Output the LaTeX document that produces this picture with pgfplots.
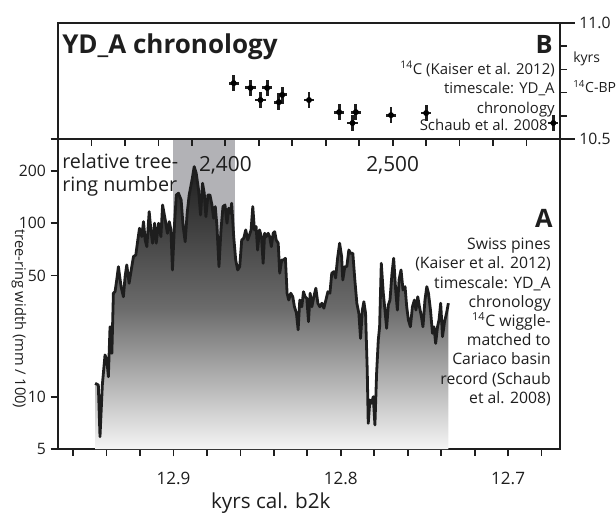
\documentclass[border=0pt]{standalone}
\usepackage{fontspec}
\setmainfont{Open Sans}
\usepackage{pgfplots}
\usepackage{pgfplotstable}
\pgfplotsset{compat=1.18}
\definecolor{bandgray}{RGB}{178,178,182}
\definecolor{ink}{RGB}{30,30,30}

\pgfplotstableread{
age width
12.9468 11.96
12.9449 11.69
12.9439 5.89
12.9425 11.69
12.9409 17.41
12.9398 16.29
12.9389 13.05
12.9379 25.34
12.9368 17.81
12.9359 39.48
12.9349 40.33
12.9339 47.12
12.9329 56.2
12.9313 43.1
12.9299 37.7
12.9289 49.2
12.9279 57.5
12.9265 45.1
12.9249 56.2
12.9239 64.2
12.9225 65.6
12.9213 80.1
12.9203 93.5
12.9189 83.7
12.9179 102.1
12.9169 80.1
12.9159 73.3
12.9145 116.6
12.9135 91.5
12.9125 76.7
12.9113 100
12.9103 76.7
12.9089 100
12.9075 83.7
12.9065 127.4
12.9049 104.4
12.9036 87.5
12.9025 102.1
12.9015 91.5
12.9006 53.8
12.8994 97.7
12.8983 145.5
12.8970 148.9
12.8954 136.2
12.8943 97.7
12.8930 78.3
12.8918 114.2
12.8906 145.5
12.8889 177.6
12.8876 211.9
12.8864 194.1
12.8850 155.5
12.8838 111.6
12.8826 169.9
12.8816 148.9
12.8806 109.1
12.8794 145.5
12.8782 145.5
12.8770 127.4
12.8760 106.8
12.8750 124.6
12.8740 95.6
12.8728 56.2
12.8716 91.5
12.8704 124.6
12.8692 127.4
12.8680 100
12.8670 122
12.8660 114.2
12.8652 130.3
12.8640 83.7
12.8628 61.4
12.8616 53.8
12.8604 56.2
12.8592 80.1
12.8580 81.9
12.8568 91.5
12.8556 80.1
12.8546 85.6
12.8536 91.5
12.8526 124.6
12.8516 91.5
12.8506 95.6
12.8497 70.1
12.8486 91.5
12.8474 83.7
12.8464 58.8
12.8455 87.5
12.8445 83.7
12.8434 87.5
12.8425 83.7
12.8415 73.3
12.8404 87.5
12.8395 89.4
12.8386 80.1
12.8374 76.7
12.8365 51.5
12.8353 61.4
12.8341 61.4
12.8331 62.8
12.8321 39.5
12.8311 36.1
12.8299 39.5
12.8287 37.7
12.8277 33.0
12.8265 30.3
12.8255 24.3
12.8245 36.1
12.8233 33.0
12.8223 40.3
12.8213 37.7
12.8203 36.9
12.8193 27.1
12.8183 39.5
12.8173 33.0
12.8161 37.7
12.8149 42.2
12.8137 34.6
12.8125 33.0
12.8113 34.6
12.8101 32.4
12.8089 36.1
12.8077 40.3
12.8065 39.5
12.8054 51.5
12.8042 52.6
12.8031 48.4
12.8019 63.1
12.8007 76.7
12.7995 64.2
12.7988 47.1
12.7976 56.2
12.7964 56.2
12.7952 70.1
12.7942 67.1
12.7928 67.1
12.7916 47.1
12.7904 34.6
12.7892 30.3
12.7882 21.7
12.7871 31.6
12.7862 35.3
12.7852 30.3
12.7842 14.3
12.7836 7.03
12.7826 9.58
12.7816 9.17
12.7806 10.0
12.7796 6.88
12.7786 13.65
12.7776 21.2
12.7768 25.3
12.7758 58.8
12.7746 39.5
12.7736 31.6
12.7726 24.8
12.7716 33.8
12.7706 36.1
12.7694 51.5
12.7684 62.8
12.7672 41.2
12.7662 31.6
12.7652 47.1
12.7640 53.8
12.7628 41.2
12.7616 43.1
12.7606 33.0
12.7596 27.7
12.7584 25.3
12.7572 33.0
12.7560 36.1
12.7551 31.6
12.7540 37.7
12.7530 33.0
12.7518 28.9
12.7509 25.3
12.7497 36.1
12.7486 43.1
12.7476 39.5
12.7464 31.6
12.7452 23.2
12.7443 25.3
12.7433 20.3
12.7422 25.3
12.7413 27.7
12.7403 34.6
12.7392 22.2
12.7380 27.1
12.7368 30.3
12.7357 34.6
}\ringwidth

\pgfplotstableread{
age c14 ex ey
12.864 10.741 0.0031 0.034
12.854 10.720 0.0031 0.034
12.848 10.668 0.0031 0.034
12.844 10.720 0.0031 0.034
12.837 10.659 0.0031 0.034
12.835 10.690 0.0031 0.034
12.819 10.668 0.0031 0.034
12.801 10.616 0.0031 0.034
12.793 10.569 0.0031 0.034
12.791 10.616 0.0031 0.034
12.770 10.603 0.0031 0.034
12.749 10.612 0.0031 0.034
12.673 10.569 0.0031 0.034
}\cfourteen

\begin{document}
\begin{tikzpicture}
\useasboundingbox (0,0) rectangle (462pt,384pt);
% ---------------- Panel A ----------------
\begin{axis}[
  at={(43.5pt,47.25pt)}, anchor=south west,
  width=376.5pt, height=232.5pt, scale only axis,
  xmin=12.669, xmax=12.969, x dir=reverse,
  ymode=log, ymin=5, ymax=305.7, log origin y=infty,
  axis line style={line width=1.5pt, ink},
  tick style={line width=1.3pt, ink},
  xtick={12.7,12.8,12.9}, xticklabels={12.7,12.8,12.9},
  minor xtick={12.68,12.72,12.74,12.76,12.78,12.82,12.84,12.86,12.88,12.92,12.94,12.96},
  ytick={5,10,50,100,200}, yticklabels={5,10,50,100,200},
  extra y ticks={305.7}, extra y tick labels={},
  yminorticks=false,
  xtick pos=bottom, ytick pos=left,
  tick align=outside,
  major tick length=5.5pt, minor tick length=5pt,
  ticklabel style={font=\fontsize{11.8pt}{13pt}\selectfont, text=ink},
  xticklabel style={yshift=-8pt, font=\fontsize{12.8pt}{14pt}\selectfont},
  clip mode=individual,
]
\addplot[fill=bandgray, draw=none] coordinates {(12.900,5) (12.900,305.7) (12.8635,305.7) (12.8635,5)} -- cycle;
\addplot[draw=none, top color=black!88, bottom color=black!4, middle color=black!58] table[x=age,y=width] {\ringwidth} \closedcycle;
\addplot[line width=2.1pt, color=ink, line join=round] table[x=age,y=width] {\ringwidth};

\node[anchor=base east, font=\fontsize{19pt}{19pt}\selectfont\bfseries, text=ink, inner sep=0pt] at (rel axis cs:0.986,0.716) {A};
\node[anchor=north east, align=right, font=\fontsize{11.8pt}{14.4pt}\selectfont, text=ink, inner sep=0pt] at (rel axis cs:0.982,0.681)
 {Swiss pines\\(Kaiser et al. 2012)\\timescale: YD\_A\\chronology\\\textsuperscript{14}C wiggle-\\matched to\\Cariaco basin\\record (Schaub\\et al. 2008)};
\node[anchor=north west, align=left, font=\fontsize{14.8pt}{17.3pt}\selectfont, text=ink, inner sep=0pt] at (rel axis cs:0.008,0.955)
 {relative tree-\\ring number};
\node[rotate=-90, font=\fontsize{11pt}{13pt}\selectfont, text=ink] at (rel axis cs:-0.0777,0.42) {tree-ring width (mm / 100)};
\node[font=\fontsize{15.5pt}{17pt}\selectfont, text=ink] at (rel axis cs:0.424,-0.174) {kyrs cal. b2k};
\end{axis}
% ---------------- ring-number axis (top of panel A) ----------------
\begin{axis}[
  at={(43.5pt,47.25pt)}, anchor=south west,
  width=376.5pt, height=232.5pt, scale only axis,
  xmin=2300, xmax=2600, ymin=0, ymax=1,
  axis x line*=top, axis y line=none,
  axis line style={draw=none},
  xtick={2320,2340,2360,2380,2400,2420,2440,2460,2480,2500,2520,2540,2560,2580},
  xticklabels={},
  tick align=inside, major tick length=5.5pt,
  tick style={line width=1.3pt, ink},
  clip=false,
]
\node[font=\fontsize{15.6pt}{17pt}\selectfont, text=ink] at (axis cs:2400,0.916) {2,400};
\node[font=\fontsize{15.6pt}{17pt}\selectfont, text=ink] at (axis cs:2500,0.916) {2,500};
\end{axis}
% ---------------- Panel B ----------------
\begin{axis}[
  at={(43.5pt,279.75pt)}, anchor=south west,
  width=376.5pt, height=87pt, scale only axis,
  xmin=12.669, xmax=12.969, x dir=reverse,
  ymin=10.5, ymax=11.0,
  xtick=\empty,
  ytick={10.5,11.0}, yticklabels={10.5,11.0},
  minor ytick={10.6,10.7,10.8,10.9},
  ytick pos=right, tick align=outside,
  major tick length=11pt, minor tick length=5pt,
  axis line style={line width=1.5pt, ink},
  tick style={line width=1.3pt, ink},
  ticklabel style={font=\fontsize{11.8pt}{13pt}\selectfont, text=ink},
  clip=false,
]
\addplot[only marks, mark=none,
  error bars/.cd, x dir=both, x explicit, y dir=both, y explicit,
  error mark=none, error bar style={draw=ink, line width=2.2pt}]
  table[x=age, y=c14, x error=ex, y error=ey] {\cfourteen};
\node[anchor=base west, font=\fontsize{19.5pt}{20pt}\selectfont\bfseries, text=ink, inner sep=0pt] at (rel axis cs:0.008,0.741) {YD\_A chronology};
\node[anchor=base east, font=\fontsize{19pt}{20pt}\selectfont\bfseries, text=ink, inner sep=0pt] at (rel axis cs:0.986,0.741) {B};
\node[anchor=north east, align=right, font=\fontsize{11.2pt}{14.6pt}\selectfont, text=ink, inner sep=0pt] at (rel axis cs:0.990,0.672)
 {\textsuperscript{14}C (Kaiser et al. 2012)\\timescale: YD\_A\\chronology};
\node[anchor=base east, font=\fontsize{11.2pt}{14pt}\selectfont, text=ink, inner sep=0pt] at (rel axis cs:0.976,0.069) {Schaub et al. 2008};
\node[anchor=base west, font=\fontsize{10.5pt}{12pt}\selectfont, text=ink, inner sep=0pt] at (rel axis cs:1.026,0.66) {kyrs};
\node[anchor=base west, font=\fontsize{10.5pt}{12pt}\selectfont, text=ink, inner sep=0pt] at (rel axis cs:1.026,0.40) {\textsuperscript{14}C-BP};
\end{axis}
\end{tikzpicture}
\end{document}
